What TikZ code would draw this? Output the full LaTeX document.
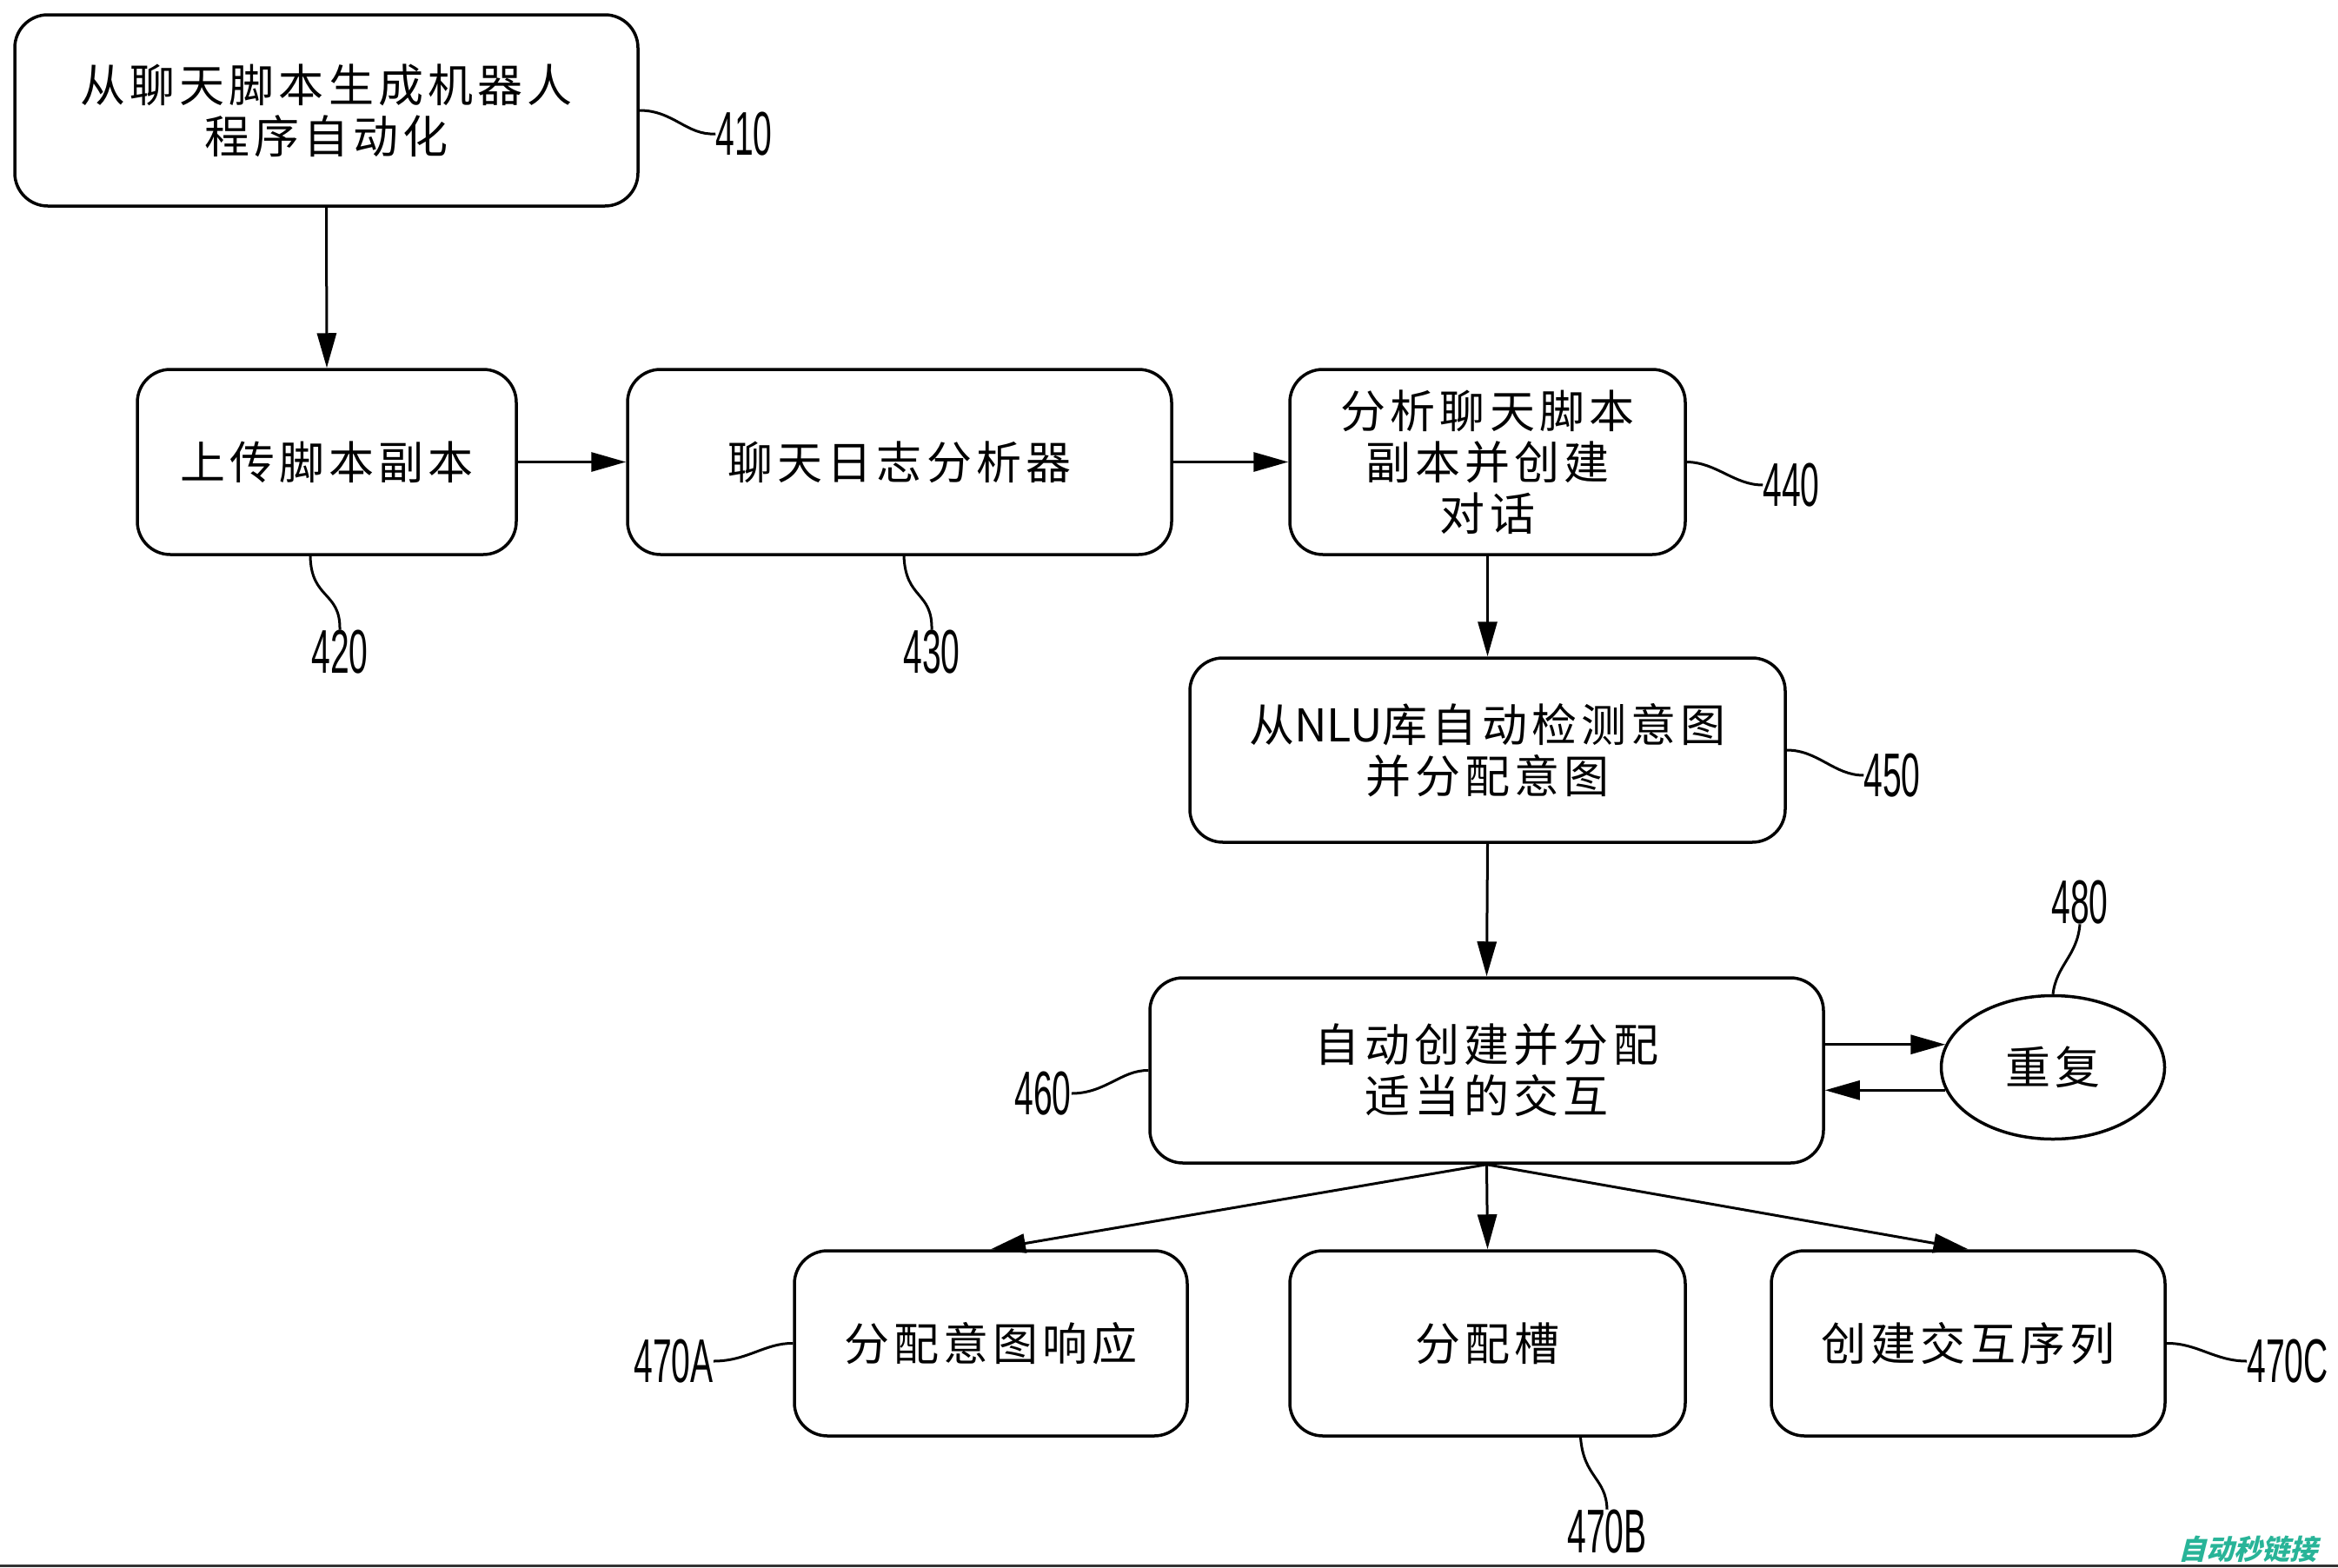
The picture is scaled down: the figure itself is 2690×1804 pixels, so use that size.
\documentclass[tikz,border=0pt]{standalone}
\usepackage{fontspec}
\setmainfont{Liberation Sans}
\newfontfamily\cjk[LetterSpace=10]{Noto Sans CJK SC}
\newfontfamily\cjkn{Noto Sans CJK SC}
\newfontfamily\numf[FakeStretch=0.55]{Liberation Sans}
\newfontfamily\wmf[FakeSlant=0.25]{Noto Sans CJK SC}
\usetikzlibrary{arrows.meta,shapes.geometric}
\definecolor{wmteal}{RGB}{40,180,152}
\begin{document}
\begin{tikzpicture}[x=1pt,y=-1pt,
  box/.style={draw, line width=3.5pt, rounded corners=38pt, inner sep=0pt, align=center,
    font=\cjk\fontsize{52}{59}\selectfont},
  arr/.style={line width=3pt, -{Triangle[length=40pt,width=22pt]}},
  lead/.style={line width=3pt},
  num/.style={font=\numf\fontsize{71}{71}\selectfont, inner sep=0pt}]
\fill[white] (0,0) rectangle (2690,1804);
\useasboundingbox (0,0) rectangle (2690,1804);

% boxes
\node[box, minimum width=717pt, minimum height=220pt] (b410) at (375.5,127) {从聊天脚本生成机器人\\程序自动化};
\node[box, minimum width=436pt, minimum height=213pt] (b420) at (376,531.5) {上传脚本副本};
\node[box, minimum width=626pt, minimum height=213pt] (b430) at (1035,531.5) {聊天日志分析器};
\node[box, minimum width=455pt, minimum height=213pt] (b440) at (1711.5,531.5) {分析聊天脚本\\副本并创建\\对话};
\node[box, minimum width=685pt, minimum height=212pt] (b450) at (1711.5,863) {从{\cjkn NLU}库自动检测意图\\并分配意图};
\node[box, minimum width=775pt, minimum height=213pt] (b460) at (1710.5,1231.5) {自动创建并分配\\适当的交互};
\node[box, minimum width=452pt, minimum height=213pt] (b470A) at (1140,1545.5) {分配意图响应};
\node[box, minimum width=455pt, minimum height=213pt] (b470B) at (1711.5,1545.5) {分配槽};
\node[box, minimum width=453pt, minimum height=213pt] (b470C) at (2264.5,1545.5) {创建交互序列};
\node[box, ellipse, rounded corners=0pt, minimum width=257pt, minimum height=165pt] (ell) at (2362,1228) {重复};

% labels
\node[num] (l410) at (856,154) {410};
\node[num] (l420) at (391,750) {420};
\node[num] (l430) at (1072,750) {430};
\node[num] (l440) at (2061,558) {440};
\node[num] (l450) at (2177,892) {450};
\node[num] (l460) at (1200,1258) {460};
\node[num] (l480) at (2393,1038) {480};
\node[num] (l470A) at (775,1566) {470A};
\node[num] (l470B) at (1849,1762) {470B};
\node[num] (l470C) at (2632,1566) {470C};

% arrows
\draw[arr] (b410.south) -- (b420.north);
\draw[arr] (b420.east) -- (b430.west);
\draw[arr] (b430.east) -- (b440.west);
\draw[arr] (b440.south) -- (b450.north);
\draw[arr] (b450.south) -- (b460.north);
\draw[arr] (b460.east |- ell.168) -- (ell.168);
\draw[arr] (ell.192) -- (b460.east |- ell.192);
\draw[arr] (b460.south) -- (b470A.north);
\draw[arr] (b460.south) -- (b470B.north);
\draw[arr] (b460.south) -- (b470C.north);

% leaders
\draw[lead] (b410.east) .. controls (775,127) and (790,156) .. (l410.west);
\draw[lead] ([xshift=-19pt]b420.south) .. controls (358,690) and (392,680) .. (l420.north);
\draw[lead] ([xshift=5pt]b430.south) .. controls (1042,690) and (1073,680) .. (l430.north);
\draw[lead] (b440.east) .. controls (1975,532) and (1995,558) .. (l440.west);
\draw[lead] (b450.east) .. controls (2092,863) and (2110,892) .. (l450.west);
\draw[lead] (b460.west) .. controls (1290,1231) and (1272,1258) .. (l460.east);
\draw[lead] (ell.north) .. controls (2366,1110) and (2390,1100) .. (l480.south);
\draw[lead] (b470A.west) .. controls (880,1545) and (860,1566) .. (l470A.east);
\draw[lead] ([xshift=107pt]b470B.south) .. controls (1822,1700) and (1848,1700) .. (l470B.north);
\draw[lead] (b470C.east) .. controls (2528,1545) and (2548,1566) .. (l470C.west);

% watermark and bottom rule
\node[font=\wmf\bfseries\fontsize{32}{32}\selectfont, text=wmteal, inner sep=0pt] (wm) at (2586,1782) {自动秒链接};
\draw[line width=3pt, black!80] (0,1801) -- (2690,1801);
\end{tikzpicture}
\end{document}
